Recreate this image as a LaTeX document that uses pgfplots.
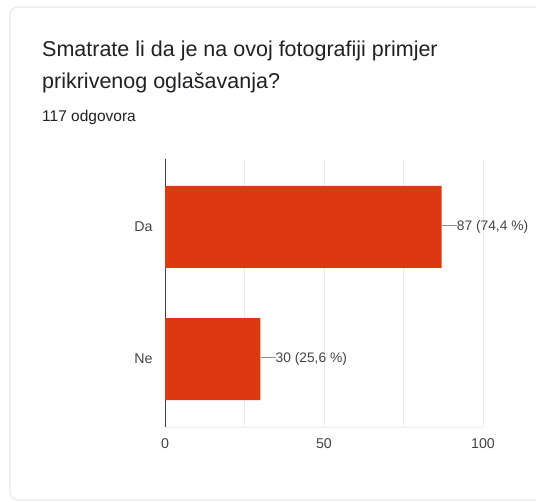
\documentclass[border=0pt]{standalone}
\usepackage{pgfplots}
\pgfplotsset{compat=1.18}
\usepackage{fontspec}
\setmainfont{Liberation Sans}
\definecolor{barred}{HTML}{DC3912}
\definecolor{titletext}{HTML}{202124}
\definecolor{ticktext}{HTML}{444444}
\definecolor{gridgray}{HTML}{EBEBEB}
\definecolor{cardgray}{HTML}{E8E8E8}
\begin{document}
\begin{tikzpicture}[x=1pt,y=1pt]
  \clip (0,0) rectangle (536,-502);
  \fill[white] (0,0) rectangle (536,-502);
  \draw[cardgray, line width=1.2pt, rounded corners=8pt] (10,-7) rectangle (560,-500);
  \node[anchor=base west, inner sep=0, text=titletext, font=\fontsize{21.5}{32}\selectfont] at (42,-57) {Smatrate li da je na ovoj fotografiji primjer};
  \node[anchor=base west, inner sep=0, text=titletext, font=\fontsize{21.5}{32}\selectfont] at (42,-89) {prikrivenog oglašavanja?};
  \node[anchor=base west, inner sep=0, text=titletext, font=\fontsize{15.5}{18}\selectfont] at (42,-122) {117 odgovora};
  \begin{axis}[
      at={(165pt,-427pt)}, anchor=south west,
      scale only axis, width=318pt, height=268pt,
      xbar, bar width=82pt,
      xmin=0, xmax=100, ymin=-0.515, ymax=1.515,
      xtick={0,50,100}, ytick={0,1}, yticklabels={Ne,Da},
      minor xtick={25,75},
      xmajorgrids, xminorgrids,
      major grid style={draw=gridgray, line width=0.8pt},
      minor grid style={draw=gridgray, line width=0.8pt},
      axis lines=left,
      x axis line style={-, draw=gridgray, line width=0.8pt},
      y axis line style={-, draw=black!75, line width=1pt},
      major tick length=0pt, minor tick length=0pt,
      tick label style={text=ticktext, font=\fontsize{14.2}{17}\selectfont},
      /pgf/number format/assume math mode=true,
      xticklabel style={yshift=-8pt},
      yticklabel style={xshift=-9pt},
      point meta=explicit symbolic,
      nodes near coords,
      every node near coord/.style={anchor=west, inner xsep=0pt, text=ticktext,
        font=\fontsize{13.8}{17}\selectfont},
      clip=false,
    ]
    \addplot[draw=none, fill=barred, nodes near coords={\textcolor{gridgray!60!black}{\rule[0.33em]{15pt}{0.7pt}}\pgfplotspointmeta}]
      coordinates {
        (87,1) [87 (74,4 \%)]
        (30,0) [30 (25,6 \%)]
      };
  \end{axis}
\end{tikzpicture}
\end{document}
